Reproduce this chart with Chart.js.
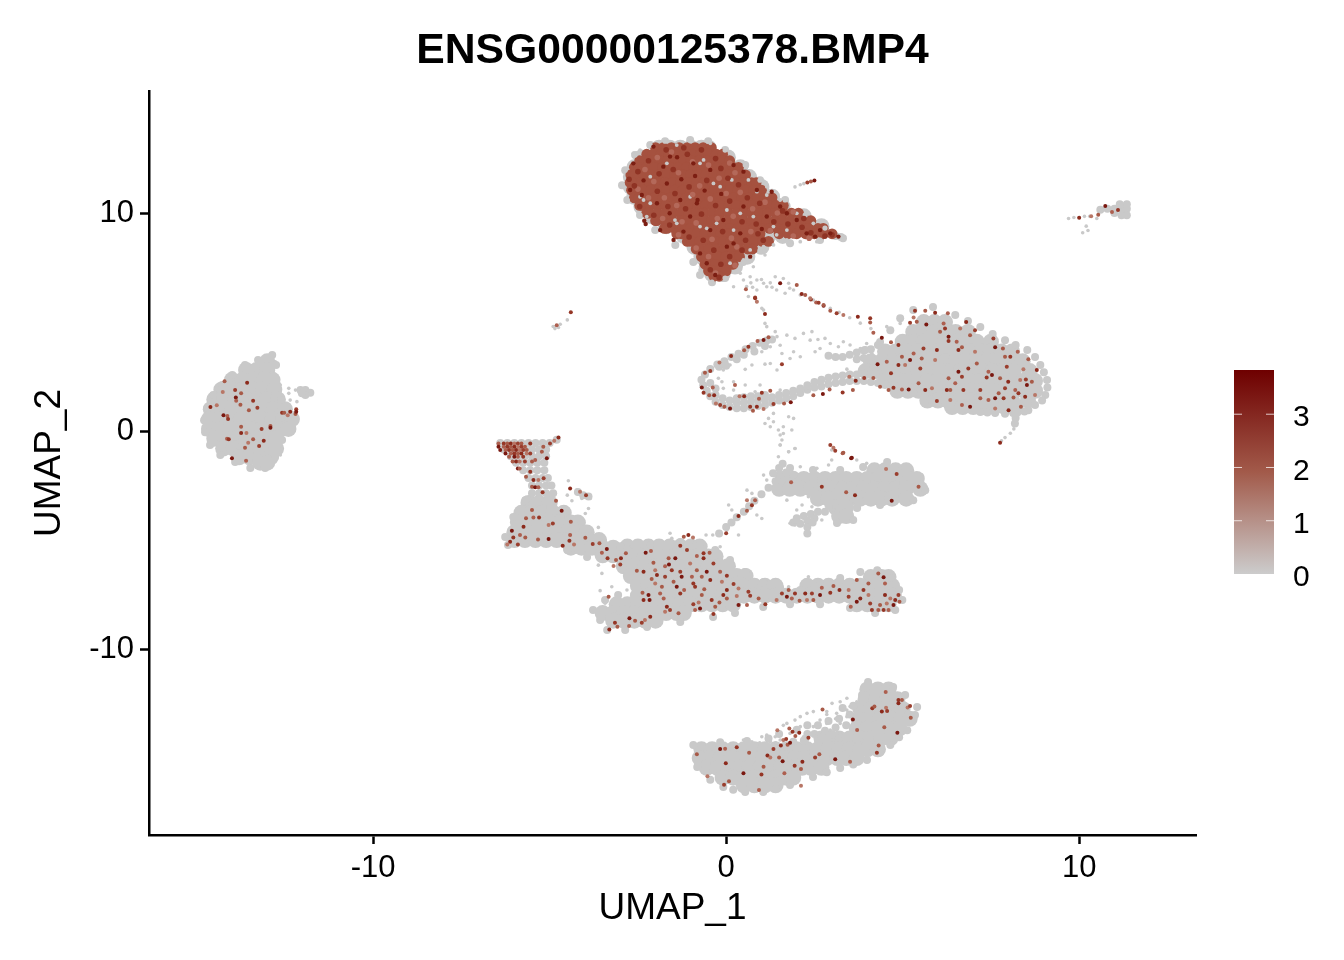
<!DOCTYPE html>
<html>
<head>
<meta charset="utf-8">
<title>ENSG00000125378.BMP4</title>
<script src="https://cdn.jsdelivr.net/npm/chart.js@4"></script>
<style>
  html, body { margin: 0; padding: 0; background: #fff; }
  #wrap { width: 1344px; height: 960px; }
</style>
</head>
<body>
<div id="wrap"><canvas id="chart" width="1344" height="960"></canvas></div>
<script>
// UMAP feature plot
var TITLE = "ENSG00000125378.BMP4";
var xTicks = [-10, 0, 10];
var yTicks = [-10, 0, 10];
var legendTicks = [0, 1, 2, 3];
var legendMax = 3.83;

// solid grey parts of each cluster, as [umap2, [umap1 ...]] rows
var massLeft = [
  [3.2, [-13.0]], [2.8, [-13.6, -13.3, -13.0]], [2.35, [-14.0, -13.7, -13.4, -13.1, -12.85]],
  [1.9, [-14.3, -14.0, -13.7, -13.4, -13.1, -12.8]], [1.45, [-14.5, -14.2, -13.9, -13.6, -13.3, -13.0, -12.7]],
  [1.0, [-14.6, -14.3, -14.0, -13.7, -13.4, -13.1, -12.8, -12.5]],
  [0.55, [-14.65, -14.35, -14.05, -13.75, -13.45, -13.15, -12.85, -12.55, -12.3]],
  [0.1, [-14.65, -14.35, -14.05, -13.75, -13.45, -13.15, -12.85, -12.6, -12.4]],
  [-0.35, [-14.5, -14.2, -13.9, -13.6, -13.3, -13.0, -12.75]],
  [-0.8, [-14.25, -13.95, -13.65, -13.35, -13.05, -12.75]],
  [-1.2, [-13.8, -13.5, -13.2, -12.9]], [-1.45, [-13.2, -13.0]]
];
var massTop = [
  [13.0, [-1.9, -1.6, -1.3, -1.0, -0.7, -0.5]], [12.55, [-2.4, -2.1, -1.8, -1.5, -1.2, -0.9, -0.6, -0.3, 0.05]],
  [12.1, [-2.6, -2.3, -2.0, -1.7, -1.4, -1.1, -0.8, -0.5, -0.2, 0.1, 0.4]],
  [11.65, [-2.7, -2.4, -2.1, -1.8, -1.5, -1.2, -0.9, -0.6, -0.3, 0.0, 0.3, 0.65]],
  [11.2, [-2.7, -2.4, -2.1, -1.8, -1.5, -1.2, -0.9, -0.6, -0.3, 0.0, 0.3, 0.6, 1.0]],
  [10.75, [-2.6, -2.3, -2.0, -1.7, -1.4, -1.1, -0.8, -0.5, -0.2, 0.1, 0.4, 0.7, 1.0, 1.3]],
  [10.3, [-2.4, -2.1, -1.8, -1.5, -1.2, -0.9, -0.6, -0.3, 0.0, 0.3, 0.6, 0.9, 1.2, 1.6]],
  [9.85, [-2.1, -1.8, -1.5, -1.2, -0.9, -0.6, -0.3, 0.0, 0.3, 0.6, 0.9, 1.2, 1.5, 1.8, 2.2]],
  [9.4, [-1.7, -1.4, -1.1, -0.8, -0.5, -0.2, 0.1, 0.4, 0.7, 1.0, 1.3, 1.6, 1.9, 2.2, 2.7]],
  [8.95, [-1.2, -0.9, -0.6, -0.3, 0.0, 0.3, 0.6, 0.9, 1.2, 1.6]], [8.45, [-0.9, -0.6, -0.3, 0.0, 0.3, 0.6, 1.0]],
  [8.0, [-0.7, -0.4, -0.1, 0.2, 0.6]], [7.55, [-0.55, -0.25, 0.05, 0.25]], [7.2, [-0.4, -0.1]]
];
var massRight = [
  [5.0, [5.6, 5.9, 6.2]], [4.55, [5.3, 5.6, 5.9, 6.2, 6.5, 6.85]],
  [4.1, [5.0, 5.3, 5.6, 5.9, 6.2, 6.5, 6.8, 7.1, 7.5]],
  [3.65, [4.5, 4.8, 5.1, 5.4, 5.7, 6.0, 6.3, 6.6, 6.9, 7.2, 7.5, 7.8, 8.1]],
  [3.2, [4.1, 4.4, 4.7, 5.0, 5.3, 5.6, 5.9, 6.2, 6.5, 6.8, 7.1, 7.4, 7.7, 8.0, 8.4]],
  [2.75, [3.95, 4.25, 4.55, 4.85, 5.15, 5.45, 5.75, 6.05, 6.35, 6.65, 6.95, 7.25, 7.55, 7.85, 8.15, 8.6]],
  [2.3, [4.5, 4.8, 5.1, 5.4, 5.7, 6.0, 6.3, 6.6, 6.9, 7.2, 7.5, 7.8, 8.1, 8.4, 8.75]],
  [1.85, [4.85, 5.15, 5.45, 5.75, 6.05, 6.35, 6.65, 6.95, 7.25, 7.55, 7.85, 8.15, 8.45, 8.75]],
  [1.4, [5.7, 6.0, 6.3, 6.6, 6.9, 7.2, 7.5, 7.8, 8.1, 8.55]], [1.1, [6.4, 6.7, 7.0, 7.3, 7.6, 7.9, 8.2]]
];
var massWedge = [
  [-3.3, [-5.6, -5.3, -5.0]], [-3.75, [-5.8, -5.5, -5.2, -4.9, -4.6]],
  [-4.2, [-5.9, -5.6, -5.3, -5.0, -4.7, -4.4, -4.2]], [-4.65, [-6.0, -5.7, -5.4, -5.1, -4.8, -4.5, -4.2, -3.95]],
  [-5.0, [-6.0, -5.7, -5.4, -5.1, -4.8, -4.5, -4.2, -3.9, -3.6]], [-5.35, [-4.4, -4.1, -3.8, -3.5, -3.2]],
  [-5.7, [-3.5, -3.2]]
];
var massBody = [
  [-5.3, [-2.8, -2.5, -2.2, -1.9, -1.6, -1.3, -1.0, -0.75]],
  [-5.75, [-2.9, -2.6, -2.3, -2.0, -1.7, -1.4, -1.1, -0.8, -0.5, -0.3]],
  [-6.2, [-2.9, -2.6, -2.3, -2.0, -1.7, -1.4, -1.1, -0.8, -0.5, -0.2, 0.05]],
  [-6.65, [-2.7, -2.4, -2.1, -1.8, -1.5, -1.2, -0.9, -0.6, -0.3, 0.0, 0.3, 0.55]],
  [-6.7, [4.1, 4.4, 4.6]],
  [-7.1, [-2.5, -2.2, -1.9, -1.6, -1.3, -1.0, -0.7, -0.4, -0.1, 0.2, 0.5, 0.8, 1.1, 1.4, 2.3, 2.6, 2.9, 3.2, 3.5, 3.8, 4.1, 4.4, 4.7]],
  [-7.55, [-2.5, -2.2, -1.9, -1.6, -1.3, -1.0, -0.7, -0.4, -0.1, 0.2, 0.5, 0.8, 1.1, 1.4, 1.7, 2.0, 2.3, 2.6, 2.9, 3.2, 3.5, 3.8, 4.1, 4.4, 4.75]],
  [-7.95, [-3.1, -2.8, -2.5, -2.2, -1.9, -1.6, -1.3, -1.0, -0.7, -0.4, -0.1, 0.2, 3.7, 4.0, 4.3, 4.6]],
  [-8.35, [-3.5, -3.2, -2.9, -2.6, -2.3, -2.0, -1.7, -1.4, -1.2]], [-8.7, [-3.2, -2.9, -2.6, -2.3, -2.0]]
];
var massMid = [
  [-1.8, [4.2, 4.5, 4.8, 5.1]],
  [-2.2, [1.6, 1.9, 2.2, 2.5, 2.8, 3.1, 3.4, 3.7, 4.0, 4.3, 4.6, 4.9, 5.2, 5.4]],
  [-2.65, [1.5, 1.8, 2.1, 2.4, 2.7, 3.0, 3.3, 3.6, 3.9, 4.2, 4.5, 4.8, 5.1, 5.5]],
  [-3.1, [2.6, 2.9, 3.2, 3.5, 3.8, 4.1, 4.4, 4.7, 5.1]], [-3.5, [3.1, 3.4]], [-3.9, [3.2, 3.4]]
];
var massBottom = [
  [-11.85, [4.0, 4.3, 4.6]], [-12.3, [3.95, 4.25, 4.55, 4.85]], [-12.75, [3.8, 4.1, 4.4, 4.7, 5.0]],
  [-13.2, [3.75, 4.05, 4.35, 4.65, 4.95, 5.2]], [-13.65, [3.7, 4.0, 4.3, 4.6, 4.9]],
  [-14.1, [2.7, 2.95, 3.2, 3.5, 3.8, 4.1, 4.4, 4.65]],
  [-14.6, [-0.7, -0.4, -0.1, 0.2, 0.5, 0.8, 1.1, 1.4, 1.7, 2.0, 2.3, 2.6, 2.9, 3.2, 3.5, 3.8, 4.0, 4.3]],
  [-15.0, [-0.75, -0.45, -0.15, 0.15, 0.45, 0.75, 1.05, 1.35, 1.65, 1.95, 2.25, 2.55, 2.85, 3.15, 3.4, 3.7]],
  [-15.45, [-0.55, -0.25, 0.05, 0.35, 0.65, 0.95, 1.25, 1.55, 1.85, 2.15, 2.4, 2.7]],
  [-15.9, [-0.1, 0.2, 0.5, 0.8, 1.1, 1.4, 1.7, 1.9]], [-16.25, [0.5, 0.8, 1.1, 1.4]]
];

// narrow bands, small groups and cluster outlines
var bandLoop = [
  [4.7,2.1],[4.5,2.15],[4.3,2.2],[4.1,2.25],[3.9,2.3],[3.7,2.3],[3.5,2.3],[3.3,2.25],[3.1,2.2],[2.9,2.15],[2.7,2.05],[2.5,2.0],
  [2.3,1.9],[2.1,1.75],[1.9,1.6],[1.7,1.5],[1.5,1.4],[1.3,1.3],[1.1,1.2],[0.9,1.15],[0.7,1.1],[0.5,1.05],[0.3,1.05],[0.1,1.1],
  [-0.1,1.2],[-0.3,1.35],[1.1,1.45],[0.9,1.4],[0.7,1.35],[0.5,1.3],[0.3,1.3],[0.1,1.4],[-0.1,1.5],[-0.3,1.65],[-0.45,1.6],
  [-0.55,1.85],[-0.65,2.1],[-0.7,2.35],[-0.6,2.6],[-0.45,2.85],[-0.25,3.05],[-0.05,3.2],[0.15,3.4],[0.35,3.55],[0.55,3.75],
  [0.75,3.9],[0.95,4.05],[1.15,4.15],[1.3,4.2],[-0.45,2.2],[-0.3,1.95],
  [3.5,3.5],[3.7,3.6],[3.9,3.7],[4.1,3.75],[3.3,3.4],[3.1,3.4],[2.9,3.45],[3.7,3.3],[3.9,3.35],[4.1,3.35],[4.3,3.95],
  [0.3,1.5],[0.5,1.55],[0.7,1.6],[0.9,1.6],[1.1,1.65],[1.3,1.55],[1.5,1.65],[1.7,1.75],[1.9,1.85],[2.1,1.95],[2.3,2.1],[2.5,2.25],[2.7,2.35],
  [2.9,2.45],[3.1,2.5],[3.3,2.55],[3.5,2.6],[3.7,2.6],[3.9,2.65],[4.1,2.6],[-0.2,2.95],[0.0,3.0],[0.3,3.3],[0.5,3.5],[0.8,3.65],[1.1,3.9]
];
var bandWedge = [
  [-6.4,-0.55],[-6.2,-0.55],[-6,-0.55],[-5.8,-0.55],[-5.6,-0.55],[-5.4,-0.55],[-5.2,-0.55],[-5,-0.55],[-4.8,-0.4],
  [-6.3,-0.85],[-6.1,-0.85],[-5.9,-0.85],[-5.7,-0.85],[-5.5,-0.85],[-5.3,-0.85],[-5.1,-0.85],
  [-6.1,-1.15],[-5.9,-1.15],[-5.7,-1.15],[-5.5,-1.15],[-5.3,-1.15],[-5.1,-1.15],
  [-5.95,-1.45],[-5.75,-1.45],[-5.55,-1.45],[-5.35,-1.45],[-5.15,-1.45],
  [-5.75,-1.8],[-5.55,-1.8],[-5.35,-1.8],[-5.15,-1.8],[-5.6,-2.15],[-5.4,-2.15],[-5.2,-2.15],[-5.05,-2.15],
  [-5.5,-2.5],[-5.3,-2.5],[-5.1,-2.5],[-4.95,-2.5],[-5.5,-2.85],[-5.3,-2.85],[-5.1,-2.85],[-4.9,-2.85],
  [-4.2,-2.8],[-4.05,-2.95],[-3.9,-3.0],[-6.26,-4.86],[-6.18,-5.23],[-6.03,-3.94],[-5.69,-3.17],[-4.5,-5.46],[-3.94,-5.78],[-3.57,-5.23]
];
var bandMid = [
  [2.6,-3.7],[2.4,-3.8],[2.2,-3.9],[2.0,-4.0],[1.9,-4.2],[2.1,-4.25],[2.3,-4.1],[2.5,-4.0],[2.8,-3.7],[2.9,-3.4],
  [2.3,-4.4],[2.3,-4.7],[2.45,-4.2],[1.5,-1.7],[1.6,-1.5],[1.5,-2.0],[1.7,-1.9],[1.9,-2.0],[1.4,-2.3],
  [1.2,-2.6],[1.0,-2.9],[0.8,-3.2],[0.65,-3.45],[0.5,-3.7],[0.3,-3.95],[0.15,-4.2],[0,-4.4],[-0.2,-4.7],
  [1.33,-1.93],[1.81,-1.7],[2.46,-1.79],[3.23,-1.79],[3.88,-1.65],[4.56,-1.42],[5.07,-1.7],[5.5,-2.11],[5.64,-2.71],[5.3,-3.17],[4.36,-3.39],
  [3.71,-3.53],[3.6,-4.08],[3.14,-4.22]
];
var bandSmall = [
  [10.6,10.15],[10.8,10.2],[11,10.2],[11.2,10.2],[11.35,10.2],[11.2,9.9],[11.35,9.9],[11,10.0],[11.35,10.4],[11.15,10.4],
  [2.9,9.1],[3.1,8.95],[3.25,8.9],[-12.06,1.88],[-11.92,1.88],[-11.78,1.76],[-11.92,1.65],[-12.02,1.73],
  [8.25,0.85],[8.2,0.6],[8.18,0.35]
];
var edgeLeft = [
  [-12.86,3.49],[-13.26,3.26],[-13.63,3.03],[-13.99,2.57],[-14.28,2.11],[-14.53,1.65],[-14.7,1.06],[-14.79,0.5],[-14.76,-0.05],[-14.62,-0.64],
  [-14.33,-1.1],[-13.91,-1.42],[-13.48,-1.7],[-13.06,-1.7],[-12.78,-1.19],[-12.58,-0.41],[-12.75,3.03],[-12.72,2.11],[-12.6,1.42]
];
var edgeTop = [
  [-1.73,13.3],[-1.02,13.35],[-0.51,13.3],[-0.03,12.89],[0.54,12.2],[0.96,11.51],[1.67,10.6],[2.24,9.91],[2.8,9.31],[3.31,8.85],[2.66,8.76],[1.81,8.62],
  [0.96,8.3],[0.48,7.75],[-0.03,7.02],[-0.4,6.83],[-0.74,7.16],[-0.93,7.75],[-1.44,8.53],[-2.01,9.22],[-2.44,9.91],[-2.8,10.6],[-2.95,11.28],
  [-2.86,11.97],[-2.58,12.66],[-2.15,13.12]
];
var edgeRight = [
  [5.3,5.55],[5.86,5.69],[6.49,5.32],[7.2,4.77],[7.9,4.17],[8.53,3.72],[8.9,3.03],[9.09,2.34],[9.04,1.65],[8.75,1.19],[8.13,0.83],[7.2,0.87],[6.26,1.19],
  [5.3,1.74],[4.73,1.97],[4.93,5.18],[4.65,4.63],[4.36,4.08],[3.94,3.72],[7.62,0.83],[8.56,0.96],
  [6.85,5.05],[7.55,4.45],[8.2,3.95],[8.75,3.4],[9.0,2.7],[9.1,2.0],[8.95,1.4],[8.45,0.9],[7.9,0.8],[7.4,0.85],[6.7,1.02],[5.8,1.45]
];
var edgeBody = [
  [-3.0,-5.28],[-2.15,-5.23],[-1.3,-5.09],[-0.74,-5.14],[-0.31,-5.46],[0.11,-5.92],[0.54,-6.47],[1.05,-6.93],[1.53,-7.2],[2.1,-7.29],[2.66,-7.06],[3.23,-6.74],
  [3.8,-6.47],[4.28,-6.38],[4.65,-6.74],[4.9,-7.29],[4.99,-7.75],[4.79,-8.21],[4.22,-8.35],[3.51,-8.12],[2.66,-7.94],[1.81,-7.94],[1.05,-8.07],[0.25,-8.35],
  [-0.37,-8.53],[-1.3,-8.76],[-2.24,-8.99],[-2.86,-9.13],[-3.37,-9.13],[-3.57,-8.67],[-3.77,-8.21],[-3.43,-7.75],[-3.06,-7.52]
];
var edgeBottom = [
  [-0.93,-14.4],[-0.17,-14.27],[0.59,-14.22],[-0.82,-15.41],[-0.45,-16.0],[-0.08,-16.33],[0.54,-16.56],[1.05,-16.56],[1.81,-16.24],[2.46,-15.87],[3.23,-15.46],
  [3.99,-15.09],[4.65,-14.4],[5.13,-13.72],[5.35,-13.03],[5.41,-12.66],[5.07,-12.11],[4.73,-11.74],[4.02,-11.51],[3.85,-12.11],
  [1.9,-14.25],[2.2,-14.2],[2.5,-13.9],[2.8,-13.75],[3.1,-13.6],[3.4,-13.5],[3.2,-13.2],[3.5,-13.0],[3.3,-12.7],[3.6,-12.6],[2.6,-13.5],
  [2.85,-15.65],[3.6,-15.3],[4.35,-14.75],[4.9,-14.05],[1.4,-16.4],[0.2,-16.45],
  [1.2,-14.1],[1.5,-13.9],[2.0,-13.7],[2.3,-13.5],[2.9,-13.3],[3.0,-13.9],[2.7,-14.05],[2.3,-13.9]
];

// loose grey dots
var specksLoop = [
  [1.72,4.4],[1.95,4.25],[2.19,4.48],[2.43,4.56],[2.38,4.17],[2.6,4.2],[2.8,4.25],[2.95,4.02],[3.18,3.87],[3.32,4.1],[3.51,3.95],
  [1.53,3.94],[1.58,3.56],[1.91,3.64],[2.1,3.41],[1.81,3.33],[1.25,3.87],[1.01,3.64],[0.73,3.03],[0.54,2.83],[1.25,3.1],[1.1,3.07],
  [1.44,2.8],[2.66,3.79],[2.52,3.64],[2.99,3.41],[3.42,2.84],[-0.08,2.8],[0.11,3.03],[-0.22,2.42],[-0.12,2.26],[0.21,2.26],
  [0.54,2.11],[-0.08,1.96],[0.96,2.11],[2.62,2.19],[2.85,2.26],[3.13,2.19],[2.28,1.96],[1.95,1.88],[1.53,1.88],[0.82,1.8],[0.21,1.88],
  [3.98,4.02],[3.8,3.79],[4.13,3.56],[4.36,3.33],[4.55,4.79],[4.93,4.94],[4.27,2.87],[4.46,2.8],[4.6,2.5],[4.74,2.65],[3.98,2.65],
  [4.03,3.03],[4.17,3.18],[1.2,0.58],[1.34,0.81],[1.1,0.35],[1.25,0.2],[1.48,0.05],[1.62,-0.11],[1.53,-0.64],[1.77,0.66],[1.91,0.58],
  [1.86,0.05],[1.62,0.2],[1.77,-0.95],[1.48,-1.18],[1.95,-0.8],[1.34,0.43],[1.1,4.94],[1.15,4.79],[1.06,5.55],[1.39,4.56],[1.44,4.33],
  [8.15,0.1],[8.05,-0.1],[7.9,-0.3],[7.8,-0.45]
];
var specksTrail = [
  [0.49,6.93],[0.68,7.08],[0.87,6.93],[1.06,6.78],[0.58,6.63],[0.87,6.47],[1.15,6.62],[1.53,6.78],[1.77,6.78],[1.91,6.47],[1.67,6.32],
  [1.43,6.47],[2.1,6.24],[0.77,7.54],[1.39,7.08],[1.62,7.0],[1.1,8.08],[0.21,6.62],[0.4,7.24],[0.63,6.17],[0.87,5.94],[1.01,5.63],
  [2.47,6.01],[2.95,5.63],[0.7,6.8],[1.0,6.95],[1.25,6.8],[0.75,6.6],[1.3,6.6],[1.8,6.55],[3.2,5.45],[3.5,5.2],[3.8,4.95],[4.1,4.7]
];
var specksLower = [
  [-4.47,-2.28],[-4.5,-2.94],[-4.37,-3.2],[-4.23,-2.71],[-4.09,-3.09],[-3.85,-3.09],[-3.9,-3.55],[-3.99,-3.78],[-4.18,-4.16],[-3.62,-4.42],
  [-3.95,-4.39],[-3.62,-6.15],[-3.52,-6.53],[-3.57,-7.32],[-3.43,-7.9],[-3.24,-7.14],[-2.81,-7.29],[-1.59,-4.69],[-1.54,-4.92],[-0.57,-4.77],
  [-0.38,-4.77],[-0.17,-4.62],[-0.17,-5.31],[2.33,-6.68],[1.77,-7.14],[0.87,-3.85],[1.01,-4.01],[0.35,-4.77],[0.02,-4.54],[0.21,-4.16],
  [0.07,-3.39],[0.16,-3.62],[0.59,-2.71],[0.73,-2.86],[1.06,-2.02],[1.15,-2.25],[1.53,-0.18],[1.58,-0.41],[1.53,-0.64],[1.77,-0.95],[1.95,-0.8],
  [1.72,-3.17],[3.98,-1.48],[3.7,-1.33],[2.99,-1.33],[2.99,-0.87],[2.1,-1.64],[2.57,-1.71],[2.9,-1.56],[2.0,-3.62],[2.15,-3.39],[2.33,-3.01],
  [2.43,-3.47],[2.71,-4.08],[3.04,-3.62],[1.81,-4.23],[1.95,-4.31],[-12.39,1.96],[-12.2,1.88],[-12.39,1.73],[-12.35,1.42],[-12.16,1.35],
  [-12.87,2.68],[-12.77,3.18],[-12.63,2.11],[-12.58,-0.8],[-12.63,-1.1],[9.7,9.75],[9.85,9.8],[10.0,9.8],[10.15,9.85],[10.3,9.85],[10.5,9.75],
  [10.2,9.4],[10.25,9.2],[10.1,9.1],[1.95,11.2],[2.1,11.3],[2.2,11.35],[-4.9,4.8],[-4.85,4.7],[-4.75,4.75],[-4.7,4.9],[-4.5,5.1]
];
var specksBottom = [
  [1.01,-14.02],[1.15,-13.95],[1.25,-14.25],[1.39,-14.02],[1.62,-13.5],[1.72,-13.41],[1.95,-13.26],[2.1,-13.1],[2.29,-12.95],[2.47,-12.87],
  [2.85,-12.87],[3.0,-12.49],[3.23,-12.42],[3.42,-12.26],[3.13,-12.95],[3.42,-12.8],[2.85,-13.41],[2.66,-13.26],[2.47,-13.56],[2.57,-13.87],
  [2.95,-13.71],[3.23,-13.41],[3.51,-12.64],[3.7,-12.42],[3.84,-11.96],[2.1,-13.56],[2.19,-14.02],[1.81,-13.87],[1.53,-14.17],[0.73,-14.25],
  [0.49,-14.17],[3.23,-13.87],[3.04,-14.17],[3.42,-13.1],[0.95,-14.3],[1.4,-14.3],[1.9,-14.3],[2.3,-14.2],[2.85,-13.0],[3.1,-13.2]
];
var specksTopGaps = [
  [-0.36,11.36],[-0.17,11.21],[0.87,10.98],[1.15,10.83],[0.16,11.52],[-0.74,9.38],[-0.55,9.3],[1.43,9.0],[1.72,9.22],[1.34,9.38],[-1.4,9.53],[-1.45,9.68],
  [-2.34,10.6],[-2.15,10.45],[-2.44,10.75],[-0.74,12.28],[-0.64,12.44],[-1.68,12.28],[-2.15,11.67],[0.4,9.99],[0.77,9.84],[0.02,10.14],[-0.27,9.53],
  [-1.02,10.75],[-2.25,9.84],[0.21,9.22],[0.49,7.85],[0.11,7.7],[-0.74,7.39],[0.63,11.52],[1.15,11.21],[1.53,10.6],[2.0,9.99],[2.47,9.53],[1.72,8.77],
  [2.1,8.69],[2.57,8.69],[1.06,8.46],[1.34,8.54],[0.68,8.31],[-2.63,12.74],[-2.44,12.89],[-1.4,13.12],[-1.02,13.28],[-0.45,13.2]
];

// densely expressing cluster at the top
var topFill = [
  [13.0, [-2.0, -1.78, -1.55, -1.33, -1.1, -0.88, -0.65, -0.42]],
  [12.7, [-2.25, -2.07, -1.85, -1.63, -1.4, -1.18, -0.96, -0.73, -0.5, -0.28, -0.1]],
  [12.4, [-2.45, -2.33, -2.1, -1.88, -1.66, -1.43, -1.21, -0.99, -0.76, -0.54, -0.32, -0.1, 0.1]],
  [12.1, [-2.6, -2.48, -2.25, -2.03, -1.8, -1.58, -1.36, -1.13, -0.91, -0.69, -0.46, -0.24, -0.02, 0.2, 0.35]],
  [11.75, [-2.7, -2.58, -2.35, -2.13, -1.91, -1.68, -1.46, -1.24, -1.01, -0.79, -0.57, -0.34, -0.12, 0.1, 0.33, 0.55]],
  [11.4, [-2.72, -2.63, -2.4, -2.18, -1.96, -1.73, -1.51, -1.29, -1.06, -0.84, -0.62, -0.39, -0.17, 0.05, 0.28, 0.5, 0.72, 0.85]],
  [11.05, [-2.68, -2.57, -2.35, -2.13, -1.9, -1.68, -1.46, -1.23, -1.01, -0.79, -0.56, -0.34, -0.12, 0.11, 0.33, 0.55, 0.78, 1.0]],
  [10.7, [-2.6, -2.47, -2.25, -2.03, -1.8, -1.58, -1.36, -1.13, -0.91, -0.69, -0.46, -0.24, -0.02, 0.21, 0.43, 0.65, 0.88, 1.1, 1.3]],
  [10.35, [-2.45, -2.38, -2.15, -1.93, -1.71, -1.48, -1.26, -1.04, -0.81, -0.59, -0.37, -0.14, 0.08, 0.3, 0.53, 0.75, 0.97, 1.2, 1.42, 1.62]],
  [10.0, [-2.25, -2.18, -1.95, -1.73, -1.51, -1.28, -1.06, -0.84, -0.61, -0.39, -0.17, 0.06, 0.28, 0.5, 0.73, 0.95, 1.17, 1.4, 1.62, 1.85, 2.05]],
  [9.65, [-2.0, -1.97, -1.75, -1.53, -1.3, -1.08, -0.86, -0.63, -0.41, -0.19, 0.04, 0.26, 0.48, 0.71, 0.93, 1.15, 1.38, 1.6, 1.82, 2.05, 2.27, 2.4]],
  [9.3, [-1.75, -1.68, -1.45, -1.23, -1.01, -0.78, -0.56, -0.34, -0.11, 0.11, 0.33, 0.56, 0.78, 1.0, 1.23, 1.45, 1.67, 1.9, 2.12, 2.34, 2.6, 2.75]],
  [9.05, [-1.4, -1.27, -1.05, -0.83, -0.6, -0.38, -0.16, 0.07, 0.29, 0.51, 0.74, 0.96, 1.5, 1.75, 2.0, 2.25, 2.5, 2.75, 3.0]],
  [8.7, [-1.1, -0.98, -0.75, -0.53, -0.31, -0.08, 0.14, 0.36, 0.59, 0.81, 1.03, 1.2]],
  [8.35, [-0.85, -0.73, -0.5, -0.28, -0.06, 0.17, 0.39, 0.61, 0.75]],
  [8.0, [-0.7, -0.68, -0.45, -0.23, -0.01, 0.22, 0.38]],
  [7.65, [-0.6, -0.53, -0.3, -0.08, 0.14, 0.2]], [7.35, [-0.5, -0.4, -0.18, 0.0]], [7.1, [-0.35, -0.2]]
];
var topDark = [
  [-1.39,12.56],[-1.78,12.13],[-1.27,11.55],[-0.88,11.7],[-1.68,11.36],[-0.81,10.6],[-0.83,10.45],[-0.14,10.88],[-0.61,11.03],[-1.6,9.99],
  [-2.32,9.65],[-2.28,9.5],[-1.21,9.15],[1.01,9.27],[2.52,8.92],[3.18,8.92],[-0.31,7.16],[-2.63,12.28],[-2.06,13.05],[-0.45,11.98],[0.49,11.9],
  [0.21,12.2],[-2.34,11.5],[-2.72,11.06],[-1.96,10.45],[-1.3,10.6],[-0.08,9.68],[0.4,9.07],[1.53,10.3],[1.15,9.84],[2.0,9.68],[2.28,9.07],
  [2.66,9.22],[0.02,8.46],[-0.74,8.15],[-0.55,7.7],[0.21,8.61],[0.68,8.0],[-1.87,9.22],[-1.49,8.77],[-0.93,12.28],[-1.59,12.59],[-2.39,10.83],
  [-1.02,9.84],[-0.45,9.22],[0.49,10.3],[0.87,11.06],[1.29,10.98],[1.72,9.99],[2.95,9.07]
];
var topMid = [
  [-2.5,11.9],[-2.2,12.4],[-1.9,11.8],[-1.5,12.0],[-1.1,12.7],[-0.7,12.9],[-0.3,12.5],[0.05,11.6],[-0.55,11.5],[-1.05,11.2],[-1.45,10.9],[-1.95,11.0],
  [-2.45,10.3],[-2.05,9.9],[-1.65,10.3],[-1.15,10.2],[-0.7,9.95],[-0.3,10.35],[0.1,10.55],[0.6,10.7],[0.95,10.45],[1.35,9.6],[0.85,9.5],[0.45,9.6],
  [-0.1,9.15],[-0.65,8.75],[-1.05,8.9],[-1.6,9.45],[0.55,8.75],[0.9,9.05],[1.75,9.5],[2.15,9.35],[2.4,9.1],[2.8,8.95],[3.0,9.0],[-0.35,8.3],[0.1,8.0],
  [-0.15,7.65],[-0.45,7.4],[-0.2,7.05],[0.45,8.3],[1.05,8.75],[1.6,10.1],[2.2,9.75],[-2.75,11.55],[-2.6,11.25],[-1.2,13.0],[-1.7,12.9],[-0.15,12.05],[0.35,11.3]
];
var topLight = [
  [-2.3,12.0],[-1.95,12.55],[-1.55,12.8],[-0.95,12.35],[-0.5,12.2],[0.1,12.3],[0.25,11.85],[-0.2,11.6],[-0.75,11.25],[-1.35,11.85],[-2.05,11.45],[-2.5,11.1],
  [-2.2,10.7],[-1.75,10.7],[-1.4,10.35],[-0.95,10.85],[-0.45,10.65],[0,10.9],[0.4,10.95],[0.75,10.2],[1.1,10.5],[1.45,10.0],[1.9,10.05],[0.2,9.85],
  [-0.25,9.75],[-0.85,9.55],[-1.25,9.6],[-1.8,9.75],[-1.35,9.0],[-0.85,8.4],[-0.4,8.8],[0.15,8.85],[0.7,9.15],[1.25,9.2],[1.9,8.95],[2.35,8.85],[0.3,8.45],
  [-0.5,8.0],[0.25,7.6],[-0.3,7.25]
];

// scattered expressing cells
var redLeft = [
  [-14.21,2.29],[-13.57,2.22],[-14.26,1.79],[-13.91,1.88],[-13.74,1.73],[-13.89,1.54],[-13.88,1.39],[-13.4,1.39],[-13.76,1.21],[-14.61,1.1],
  [-14.43,1.18],[-13.28,1.07],[-13.52,0.95],[-14.24,0.72],[-14.13,0.69],[-14.11,0.55],[-13.74,0.2],[-13.74,-0.09],[-13.59,-0.09],[-13.16,0.09],
  [-12.91,0.23],[-12.91,0.15],[-14.14,-0.35],[-14.09,-0.37],[-13.4,-0.38],[-13.1,-0.44],[-13.54,-0.54],[-13.23,-0.69],[-13.63,-0.77],[-14,-1.25],
  [-13.6,-1.36],[-12.58,0.84],[-12.52,0.84],[-12.35,0.89],[-12.42,0.72],[-12.18,1.0],[-12.2,0.78],[-12.18,0.89]
];
var redRight = [
  [6.28,5.40],[5.35,5.52],[5.64,5.52],[5.92,5.43],[5.31,5.21],[5.21,4.97],[5.40,5.02],[5.67,4.89],[6.16,4.94],[6.2,4.71],[6.06,4.56],[6.8,5.0],
  [6.63,4.71],[7.05,4.63],[6.91,4.4],[6.3,4.33],[6.53,4.1],[6.3,4.13],[6.68,3.84],[6.58,3.72],[7.05,3.64],[7.57,4.25],[7.84,3.79],[7.62,3.84],
  [8.26,3.64],[8.05,3.41],[8.56,3.29],[8.8,2.8],[8.42,2.84],[7.95,2.95],[7.9,3.41],[7.53,2.57],[7.43,2.72],[7.38,2.46],[7.76,2.42],[7.99,2.26],
  [8.33,2.34],[8.49,2.37],[8.66,2.26],[8.52,2.11],[8.19,1.88],[8.28,1.73],[8.14,1.54],[8.47,1.57],[8.75,1.65],[7.9,1.96],[7.72,1.73],[7.62,1.5],
  [7.43,1.42],[7.86,1.5],[8.35,1.12],[8.0,0.96],[7.62,1.04],[7.2,1.88],[7.2,1.5],[6.91,1.12],[6.68,1.19],[6.72,1.88],[6.35,1.88],[6.25,1.88],
  [6.35,1.42],[6.68,2.49],[6.3,2.42],[6.58,2.72],[6.49,2.19],[6.86,2.87],[7.1,3.1],[5.97,3.72],[5.92,3.26],[5.59,3.79],[5.54,3.33],[5.21,3.26],
  [5.31,3.56],[4.88,3.95],[4.98,3.41],[4.88,3.03],[5.07,3.03],[5.5,2.87],[5.45,2.19],[5.17,1.91],[4.98,1.91],[4.74,1.99],[4.36,2.03],[5.64,1.88],
  [5.83,1.96],[5.97,1.38]
];
var redLoop = [
  [4.67,4.07],[4.41,4.28],[4.17,4.51],[4.08,5.17],[4.08,4.98],[3.73,5.24],[3.32,5.32],[3.13,5.4],[2.95,5.52],[2.76,5.75],[2.55,5.9],[2.4,6.04],
  [2.24,6.24],[1.1,5.37],[0.87,5.93],[0.82,6.13],[1.2,4.3],[1.06,4.18],[0.89,4.13],[0.63,3.87],[0.51,3.71],[0.14,3.44],[-0.19,3.15],[-0.45,2.75],
  [-0.6,2.68],[-0.69,2.0],[-0.38,2.0],[-0.64,1.76],[-0.48,1.64],[-0.34,1.64],[-0.29,1.27],[-0.17,1.19],[-0.05,1.12],[0.11,1.04],[0.25,2.11],
  [0.68,1.12],[0.76,0.93],[0.87,1.12],[1.06,1.01],[1.34,1.24],[1.64,1.27],[1.83,1.32],[0.93,1.48],[1.01,1.76],[1.25,1.85],[0.51,1.6],[0.38,1.6],
  [1.58,3.06],[2.47,1.64],[2.74,1.7],[2.93,1.91],[3.3,1.77],[3.59,1.88],[3.67,2.31],[3.49,2.49],[3.91,2.43],[4.17,2.43],[4.29,3.07],[4.55,3.18],
  [4.67,2.65],[4.6,1.88],[7.76,-0.54],[3.04,-0.77],[2.95,-0.64],[3.32,-1.0],[3.56,-1.22],
  [0.56,6.5],[0.82,6.09],[2.0,6.7],[2.14,6.29],[2.38,6.09],[2.62,5.89],[2.76,5.78],[1.53,6.78]
];
var redWedge = [
  [-6.45,-0.57],[-6.3,-0.57],[-6.2,-0.57],[-6.1,-0.57],[-6.0,-0.57],[-5.9,-0.57],[-5.8,-0.57],[-6.45,-0.72],[-6.3,-0.72],[-6.2,-0.72],[-6.1,-0.72],
  [-6.0,-0.72],[-5.9,-0.72],[-5.8,-0.72],[-5.7,-0.72],[-6.4,-0.87],[-6.25,-0.87],[-6.15,-0.87],[-6.05,-0.87],[-5.95,-0.87],[-5.85,-0.87],[-5.75,-0.87],
  [-5.65,-0.87],[-6.25,-1.03],[-6.1,-1.03],[-6.0,-1.03],[-5.9,-1.03],[-5.8,-1.03],[-5.65,-1.03],[-5.55,-1.03],[-6.15,-1.18],[-6.0,-1.18],[-5.9,-1.18],
  [-5.75,-1.18],[-6.05,-1.4],[-5.95,-1.4],[-5.85,-1.4],[-5.7,-1.4],[-5.5,-1.4],[-5.9,-1.72],[-5.85,-1.72],
  [-5.55,-0.57],[-5.18,-0.72],[-4.75,-0.29],[-4.87,-0.44],[-4.99,-0.57],[-5.22,-0.95],[-5.08,-1.25],[-5.41,-1.33],[-5.55,-1.87],[-5.67,-2.1],[-5.46,-2.25],
  [-5.32,-2.25],[-5.17,-2.17],[-5.5,-2.55],[-5.41,-2.58],[-5.32,-2.58],[-5.2,-2.81],[-4.82,-3.2],[-4.42,-2.63],[-4.14,-2.78],[-3.97,-2.94],[-5.5,-3.62],
  [-4.66,-3.65],[-5.46,-3.96],[-5.3,-3.96],[-5.67,-4.0],[-5.74,-4.39],[-5.03,-4.31],[-4.91,-4.24],[-4.4,-4.16],[-6.07,-4.57],[-5.84,-4.77],[-6.03,-4.88],
  [-5.69,-4.88],[-6.12,-5.08],[-6.2,-5.2],[-5.9,-5.2],[-5.33,-4.97],[-5.03,-4.95],[-4.42,-4.77],[-4.44,-5.03],[-3.99,-4.89],[-4.63,-5.26],[-4.31,-5.2],
  [-3.78,-5.18],[-3.59,-5.15],[-3.38,-5.41],[-3.52,-5.58],[-3.36,-5.84]
];
var redBody = [
  [-3.12,-5.92],[-2.98,-5.84],[-3.19,-6.19],[-3.0,-6.12],[-2.84,-5.61],[-2.28,-5.58],[-2.13,-5.5],[-1.3,-5.26],[-1.2,-4.85],[-1.07,-4.77],[-0.94,-4.88],
  [-1.11,-5.46],[-1.63,-5.84],[-1.44,-5.84],[-0.83,-5.73],[-0.64,-5.61],[-0.47,-5.58],[-0.64,-5.84],[-1.02,-6.07],[-0.36,-6.07],[-2.06,-6.04],[-1.62,-6.12],
  [-1.73,-6.2],[-1.54,-6.38],[-2.53,-6.41],[-2.34,-6.45],[-2.01,-6.38],[-1.3,-6.45],[-0.83,-6.38],[-0.55,-6.45],[-0.17,-6.45],[0.02,-6.64],[-2.11,-6.79],
  [-1.96,-6.6],[-2.01,-6.99],[-1.73,-6.68],[-1.49,-6.91],[-1.26,-6.68],[-0.97,-6.68],[-0.93,-6.99],[-0.69,-6.68],[-0.45,-6.83],[-0.12,-6.91],[0.21,-7.02],
  [-1.82,-7.14],[-1.4,-7.14],[-1.19,-7.29],[-0.88,-7.14],[-0.62,-7.26],[0.02,-7.29],[0.35,-7.22],[0.63,-7.37],[-2.37,-7.42],[-2.2,-7.52],[-1.87,-7.45],
  [-1.3,-7.45],[-0.69,-7.52],[-0.08,-7.52],[0.3,-7.57],[0.68,-7.55],[0.92,-7.68],[-2.17,-7.75],[-1.77,-7.68],[-0.41,-7.75],[0.02,-7.68],[-2.34,-7.75],
  [-0.78,-7.87],[-0.93,-7.94],[-0.19,-7.87],[0.35,-7.98],[0.59,-7.98],[1.11,-7.94],[-0.31,-8.06],[-1.68,-8.06],[-1.73,-8.29],[-1.59,-8.21],[-1.35,-8.36],
  [-0.74,-8.14],[-0.88,-8.21],[-0.36,-8.39],[-3.33,-7.6],[-2.15,-8.52],[-2.3,-8.67],[-2.39,-8.79],[-2.58,-8.7],[-2.74,-8.59],[-2.75,-8.94],[-3.15,-8.79],
  [-3.08,-8.98],[-3.31,-9.1],
  [1.43,-7.75],[1.58,-7.45],[1.77,-7.29],[1.72,-7.6],[1.86,-7.68],[1.95,-7.45],[2.08,-7.78],[2.24,-7.45],[2.29,-7.75],[2.43,-7.45],[2.47,-7.75],[2.66,-7.52],
  [2.71,-7.19],[2.95,-7.42],[3.04,-7.11],[3.21,-7.29],[3.47,-7.29],[3.47,-7.6],[3.7,-6.83],[3.7,-7.83],[3.53,-8.06],[3.89,-7.29],[4.03,-6.99],[3.8,-7.68],
  [4.03,-7.52],[4.08,-7.91],[4.31,-6.53],[4.46,-6.71],[4.5,-6.99],[4.13,-8.21],[4.36,-7.98],[4.5,-7.52],[4.65,-7.68],[4.88,-7.52],[4.91,-7.83],[4.74,-7.98],
  [4.6,-8.21],[4.46,-8.21],[4.31,-8.21],[4.79,-7.75],[4.55,-7.91]
];
var redMid = [
  [3.09,-0.9],[3.3,-1.02],[3.54,-1.25],[1.84,-2.35],[2.71,-2.55],[3.4,-2.81],[3.65,-2.94],[4.53,-1.74],[4.83,-1.97],[5.45,-2.55],[4.69,-3.2],
  [0.82,-3.17],[0.73,-3.4],[0.59,-3.65],[0.35,-3.9],[0.59,-3.17],[0,-4.69]
];
var redBottom = [
  [-0.83,-14.82],[-0.17,-14.59],[-0.03,-14.57],[0.3,-14.51],[0.65,-14.76],[-0.01,-15.24],[-0.53,-15.83],[-0.06,-16.22],[0.08,-16.07],[0.49,-15.7],[0.93,-16.47],
  [1.0,-15.75],[1.06,-15.4],[1.17,-14.88],[1.25,-14.98],[1.34,-14.59],[1.5,-14.97],[1.6,-15.15],[1.65,-15.7],[1.94,-15.35],[2.12,-15.5],[2.16,-15.17],[2.12,-16.27],
  [2.52,-14.97],[2.64,-14.83],[3.09,-15.06],[3.51,-15.17],[4.27,-14.76],[4.32,-14.42],[1.55,-14.43],[1.62,-14.17],[1.7,-14.13],[1.74,-14.39],[1.81,-14.3],[1.79,-13.64],
  [1.88,-13.79],[1.96,-13.99],[2.07,-13.84],[1.45,-13.72],[2.33,-14.07],[2.73,-12.77],[3.59,-13.23],[3.71,-13.71],[4.14,-12.72],[4.2,-12.64],[4.41,-12.87],[4.53,-12.69],
  [4.56,-12.84],[4.48,-13.59],[4.85,-13.84],[4.52,-11.97],[4.88,-12.34],[4.98,-12.34],[4.88,-12.49],[5.14,-12.68],[5.21,-12.61],[5.23,-13.15]
];
var redSmall = [
  [10.74,10.32],[10.93,10.05],[11.1,10.14],[10.54,9.92],[10.0,9.78],[10.34,9.86],[2.3,11.4],[2.4,11.45],[2.5,11.5],[-4.8,4.85],[-4.4,5.45]
];

var GREY = "#c9c9c9";
var REDS = ["#a85a48", "#8c2a1c", "#b87666", "#9a3e2e", "#a85a48", "#7a1810", "#ad5f4f", "#953626"];
var FONT = "'Liberation Sans', Arial, sans-serif";

function fromRows(rows) {
  var pts = [];
  rows.forEach(function (r) {
    r[1].forEach(function (x) { pts.push({ x: x, y: r[0] }); });
  });
  return pts;
}
function fromPairs() {
  var pts = [];
  Array.prototype.forEach.call(arguments, function (list) {
    list.forEach(function (p) { pts.push({ x: p[0], y: p[1] }); });
  });
  return pts;
}

var massPts = [massLeft, massTop, massRight, massWedge, massBody, massMid, massBottom].reduce(function (a, r) {
  return a.concat(fromRows(r));
}, []);

// colour bar and its labels sit outside the plot area
var legendBar = {
  id: "legendBar",
  afterDraw: function (chart) {
    var c = chart.ctx;
    var left = 1234, right = 1274, top = 370, bottom = 574;
    var g = c.createLinearGradient(0, bottom, 0, top);
    g.addColorStop(0, "#cccccc");
    g.addColorStop(0.5, "#a25a4a");
    g.addColorStop(1, "#6e0000");
    c.save();
    c.fillStyle = g;
    c.fillRect(left, top, right - left, bottom - top);
    c.font = "30px " + FONT;
    c.textBaseline = "middle";
    c.textAlign = "left";
    legendTicks.forEach(function (v) {
      var y = bottom - (v / legendMax) * (bottom - top);
      if (v > 0) {
        c.fillStyle = "rgba(255,255,255,0.75)";
        c.fillRect(left, y - 0.5, 8, 1);
        c.fillRect(right - 8, y - 0.5, 8, 1);
      }
      c.fillStyle = "#000";
      c.fillText(String(v), 1293, y + 4);
    });
    c.restore();
  }
};

new Chart(document.getElementById("chart"), {
  type: "scatter",
  data: {
    datasets: [
      { data: fromPairs(redLeft, redRight, redLoop, redWedge, redBody, redMid, redBottom, redSmall), pointRadius: 2,
        backgroundColor: function (ctx) { return REDS[ctx.dataIndex % REDS.length]; } },
      { data: fromPairs(topDark), pointRadius: 2.2, backgroundColor: "#7c1e12" },
      { data: fromPairs(topMid), pointRadius: 2.8, backgroundColor: "#8f3324" },
      { data: fromPairs(topLight), pointRadius: 2.8, backgroundColor: "#b4695a" },
      { data: fromPairs(specksTopGaps), pointRadius: 1.9, backgroundColor: GREY },
      { data: fromPairs(edgeTop), pointRadius: 2.6, backgroundColor: GREY },
      { data: fromRows(topFill), pointRadius: 5.4, backgroundColor: "#a5513f" },
      { data: fromPairs(specksLoop, specksTrail, specksLower, specksBottom), pointRadius: 1.8, backgroundColor: GREY },
      { data: fromPairs(bandLoop, bandWedge, bandMid, bandSmall, edgeLeft, edgeTop, edgeRight, edgeBody, edgeBottom), pointRadius: 4, backgroundColor: GREY },
      { data: massPts, pointRadius: 8, backgroundColor: GREY }
    ]
  },
  options: {
    responsive: false,
    animation: false,
    layout: { padding: { right: 148 } },
    elements: { point: { borderWidth: 0 } },
    plugins: {
      legend: { display: false },
      tooltip: { enabled: false },
      title: {
        display: true,
        text: TITLE,
        color: "#000",
        fullSize: false,
        font: { family: FONT, size: 42.7, weight: "bold", lineHeight: 1 },
        padding: { top: 30, bottom: 18.3 }
      }
    },
    scales: {
      x: {
        type: "linear",
        min: -16.35,
        max: 13.31,
        afterFit: function (s) { s.height = 125; },
        afterBuildTicks: function (s) { s.ticks = xTicks.map(function (v) { return { value: v }; }); },
        grid: { drawOnChartArea: false, tickLength: 9, tickColor: "#000", tickWidth: 2.5 },
        border: { color: "#000", width: 2.5 },
        ticks: { color: "#000", maxRotation: 0, padding: 6, font: { family: FONT, size: 31 } },
        title: { display: true, text: "UMAP_1", color: "#000", padding: { top: 4, bottom: 29 }, font: { family: FONT, size: 37 } }
      },
      y: {
        type: "linear",
        min: -18.53,
        max: 15.6,
        afterFit: function (s) { s.width = 149; },
        afterBuildTicks: function (s) { s.ticks = yTicks.map(function (v) { return { value: v }; }); },
        grid: { drawOnChartArea: false, tickLength: 9, tickColor: "#000", tickWidth: 2.5 },
        border: { color: "#000", width: 2.5 },
        ticks: { color: "#000", padding: 6, font: { family: FONT, size: 31 } },
        title: { display: true, text: "UMAP_2", color: "#000", padding: { top: 28, bottom: 0 }, font: { family: FONT, size: 37 } }
      }
    }
  },
  plugins: [legendBar]
});
</script>
</body>
</html>
